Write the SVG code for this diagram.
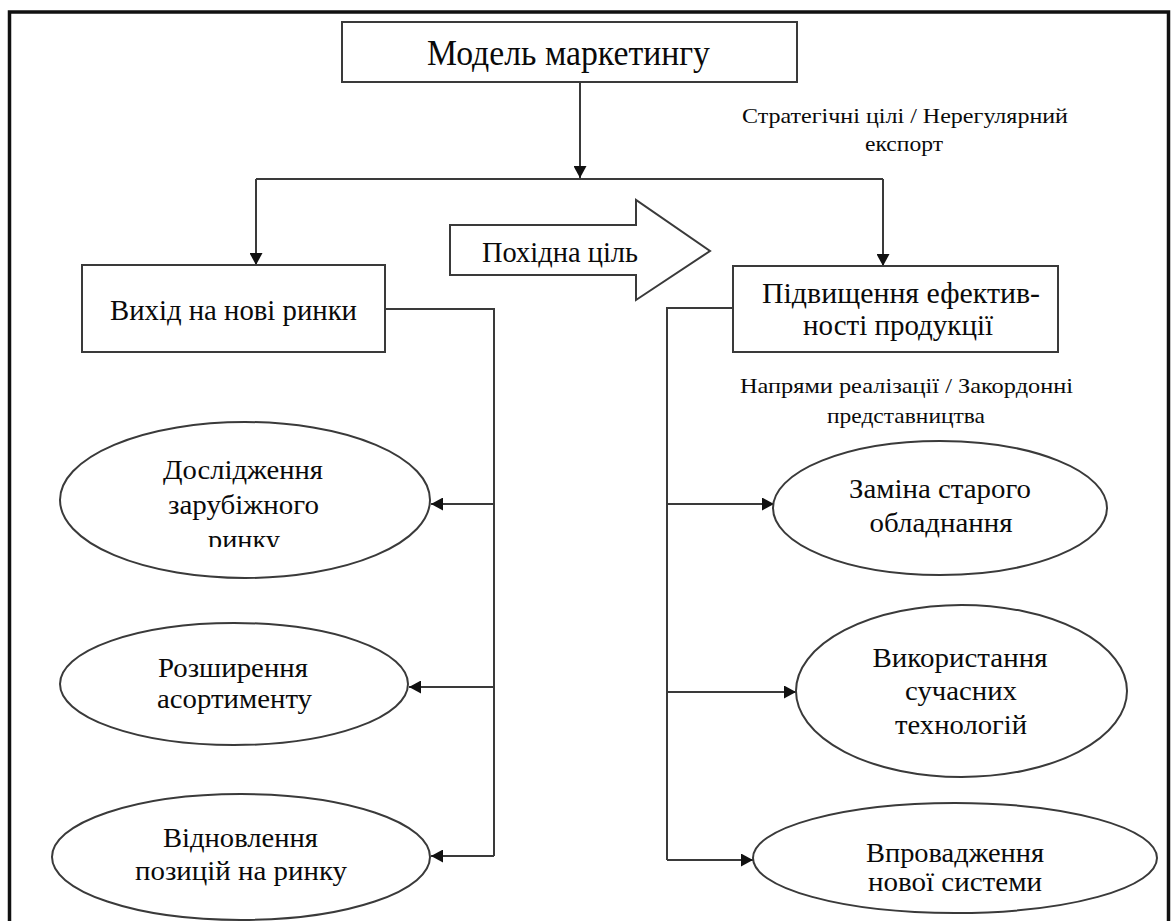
<svg xmlns="http://www.w3.org/2000/svg" width="1174" height="921" viewBox="0 0 1174 921">
<style>
.frame{fill:none;stroke:#111;stroke-width:3.5}
.box{fill:#fff;stroke:#3a3a3a;stroke-width:2}
.ell{fill:#fff;stroke:#3a3a3a;stroke-width:2}
.ln{fill:none;stroke:#3a3a3a;stroke-width:2}
.arr{marker-end:url(#ah)}
text{font-family:"Liberation Serif","Times New Roman",serif;fill:#0a0a0a;text-anchor:middle}
.t1{font-size:35px}
.t2{font-size:22px}
.t3{font-size:30px}
.t4{font-size:28px}
</style>
<defs>
<marker id="ah" markerUnits="userSpaceOnUse" markerWidth="13" markerHeight="13" refX="12" refY="6.5" orient="auto">
<path d="M0,0 L12,6.5 L0,13 z" fill="#111"/>
</marker>
<clipPath id="clipL1"><rect x="0" y="0" width="600" height="547"/></clipPath>
</defs>
<rect width="1174" height="921" fill="#fff"/>
<rect class="frame" x="9.5" y="12" width="1159" height="940"/>

<g id="connectors">
<path class="ln arr" d="M580,82 V178"/>
<path class="ln" d="M256,179 H883"/>
<path class="ln arr" d="M256,179 V265"/>
<path class="ln arr" d="M883,179 V266"/>
<path class="ln" d="M385,309 H494 V856"/>
<path class="ln arr" d="M494,504 H431"/>
<path class="ln arr" d="M494,687 H409"/>
<path class="ln arr" d="M494,856 H431"/>
<path class="ln" d="M733,308 H667 V860"/>
<path class="ln arr" d="M667,504 H774"/>
<path class="ln arr" d="M667,692 H796"/>
<path class="ln arr" d="M667,860 H753"/>
</g>

<g id="model">
<rect class="box" x="342" y="22" width="455" height="60"/>
<text class="t1" x="568.5" y="65" textLength="283" lengthAdjust="spacingAndGlyphs">Модель маркетингу</text>
</g>

<g id="label-strategic">
<text class="t2" x="905" y="123" textLength="326" lengthAdjust="spacingAndGlyphs">Стратегічні цілі / Нерегулярний</text>
<text class="t2" x="904" y="151" textLength="78" lengthAdjust="spacingAndGlyphs">експорт</text>
</g>

<g id="derived-goal">
<polygon class="box" points="450,225 636,225 636,200 710,251 636,300 636,275 450,275"/>
<text class="t3" x="560" y="262" textLength="156" lengthAdjust="spacingAndGlyphs">Похідна ціль</text>
</g>

<g id="new-markets">
<rect class="box" x="82" y="265" width="303" height="87"/>
<text class="t3" x="233.5" y="320" textLength="247" lengthAdjust="spacingAndGlyphs">Вихід на нові ринки</text>
</g>

<g id="efficiency">
<rect class="box" x="733" y="266" width="325" height="86"/>
<text class="t3" x="901" y="303" textLength="278" lengthAdjust="spacingAndGlyphs">Підвищення ефектив-</text>
<text class="t3" x="898" y="335" textLength="190" lengthAdjust="spacingAndGlyphs">ності продукції</text>
</g>

<g id="label-directions">
<text class="t2" x="906.5" y="393" textLength="333" lengthAdjust="spacingAndGlyphs">Напрями реалізації / Закордонні</text>
<text class="t2" x="906" y="423" textLength="158" lengthAdjust="spacingAndGlyphs">представництва</text>
</g>

<g id="research">
<ellipse class="ell" cx="245" cy="500" rx="185" ry="78"/>
<text class="t4" x="243" y="479" textLength="160" lengthAdjust="spacingAndGlyphs">Дослідження</text>
<text class="t4" x="243.5" y="514" textLength="151" lengthAdjust="spacingAndGlyphs">зарубіжного</text>
<text class="t4" x="244" y="549" textLength="72" lengthAdjust="spacingAndGlyphs" clip-path="url(#clipL1)">ринку</text>
</g>

<g id="assortment">
<ellipse class="ell" cx="234" cy="684" rx="174" ry="61"/>
<text class="t4" x="233" y="677" textLength="150" lengthAdjust="spacingAndGlyphs">Розширення</text>
<text class="t4" x="234.5" y="708" textLength="155" lengthAdjust="spacingAndGlyphs">асортименту</text>
</g>

<g id="restore">
<ellipse class="ell" cx="241" cy="857" rx="189" ry="63"/>
<text class="t4" x="240.5" y="847" textLength="155" lengthAdjust="spacingAndGlyphs">Відновлення</text>
<text class="t4" x="241" y="880" textLength="212" lengthAdjust="spacingAndGlyphs">позицій на ринку</text>
</g>

<g id="replace">
<ellipse class="ell" cx="940" cy="508" rx="167" ry="67"/>
<text class="t4" x="940" y="498" textLength="182" lengthAdjust="spacingAndGlyphs">Заміна старого</text>
<text class="t4" x="941" y="532" textLength="143" lengthAdjust="spacingAndGlyphs">обладнання</text>
</g>

<g id="technologies">
<ellipse class="ell" cx="961.5" cy="691" rx="165.5" ry="86"/>
<text class="t4" x="960" y="667" textLength="175" lengthAdjust="spacingAndGlyphs">Використання</text>
<text class="t4" x="961" y="700" textLength="112" lengthAdjust="spacingAndGlyphs">сучасних</text>
<text class="t4" x="961" y="734" textLength="132" lengthAdjust="spacingAndGlyphs">технологій</text>
</g>

<g id="system">
<ellipse class="ell" cx="955" cy="858" rx="202" ry="55"/>
<text class="t4" x="955" y="862" textLength="178" lengthAdjust="spacingAndGlyphs">Впровадження</text>
<text class="t4" x="955" y="891" textLength="174" lengthAdjust="spacingAndGlyphs">нової системи</text>
</g>
</svg>
